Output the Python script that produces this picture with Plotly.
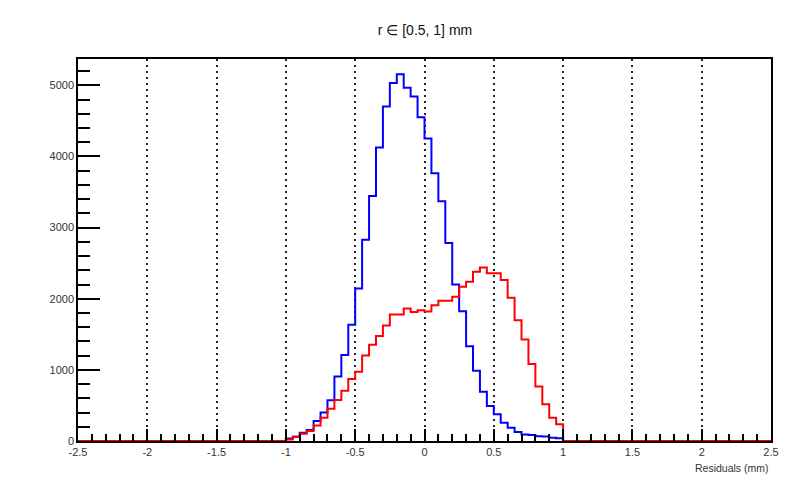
import numpy as np
import plotly.graph_objects as go

# Histogram binning: 100 bins of 0.05 from -2.5 to 2.5
x_min, x_max, n_bins = -2.5, 2.5, 100
# Non-empty region: 40 bins starting at -1.0
first_filled_bin_low = -1.0

blue_counts = [35, 60, 115, 153, 281, 399, 573, 908, 1210, 1635,
               2145, 2829, 3443, 4127, 4703, 5032, 5155, 4966, 4844, 4551,
               4254, 3763, 3372, 2782, 2201, 1824, 1333, 988, 691, 493,
               375, 257, 186, 125, 92, 85, 68, 62, 45, 40]
red_counts = [21, 59, 101, 139, 219, 328, 455, 578, 705, 870,
              974, 1201, 1352, 1475, 1625, 1777, 1777, 1862, 1815, 1838,
              1820, 1909, 1970, 1970, 2027, 2169, 2240, 2381, 2438, 2357,
              2357, 2263, 2013, 1696, 1427, 1083, 767, 517, 328, 234]

title_text = "r \u2208 [0.5, 1] mm"
x_title = "Residuals (mm)"
x_tickvals = [-2.5, -2, -1.5, -1, -0.5, 0, 0.5, 1, 1.5, 2, 2.5]
x_ticktext = ["-2.5", "-2", "-1.5", "-1", "-0.5", "0", "0.5", "1", "1.5", "2", "2.5"]
y_tickvals = [0, 1000, 2000, 3000, 4000, 5000]
y_max = 5370

edges = np.round(np.linspace(x_min, x_max, n_bins + 1), 4)
start = int(round((first_filled_bin_low - x_min) / ((x_max - x_min) / n_bins)))


def full_hist(counts):
    arr = np.zeros(n_bins)
    arr[start:start + len(counts)] = counts
    return arr


def step_xy(counts):
    h = full_hist(counts)
    xs = list(edges[:-1]) + [edges[-1], edges[-1]]
    ys = list(h) + [h[-1], 0]
    return xs, ys


fig = go.Figure()
for counts, color in [(blue_counts, "#0000ff"), (red_counts, "#ff0000")]:
    xs, ys = step_xy(counts)
    fig.add_trace(go.Scatter(x=xs, y=ys, mode="lines",
                             line=dict(color=color, width=2, shape="hv"),
                             hoverinfo="skip", showlegend=False))

# page body has an 8px margin, so the figure is placed at (8, 8)
W, H = 794, 496
ml, mr, mt, mb = 70, 31, 51, 63

fig.update_layout(
    width=W, height=H,
    margin=dict(l=ml, r=mr, t=mt, b=mb),
    paper_bgcolor="white", plot_bgcolor="white",
    font=dict(family="Liberation Sans, Arial, sans-serif", color="#222222", size=11),
    title=dict(text=title_text, x=(425 - 8) / W, xref="container",
               y=1 - 22 / H, yref="container",
               xanchor="center", yanchor="middle",
               font=dict(size=14, color="#111111")),
    annotations=[dict(text=x_title, xref="paper", yref="paper", x=1, y=0,
                      xanchor="right", yanchor="top", yshift=-19, showarrow=False,
                      font=dict(size=10.5, color="#333333"))],
    xaxis=dict(range=[x_min, x_max], tickvals=x_tickvals, ticktext=x_ticktext,
               ticks="inside", ticklen=12, tickwidth=1.5, tickcolor="black",
               showline=True, linecolor="black", linewidth=1.5, mirror=True,
               showgrid=True, gridcolor="#222222", griddash="1.5px,4.5px", gridwidth=1.5,
               zeroline=False,
               minor=dict(dtick=0.1, ticks="inside", ticklen=7, tickwidth=1.5,
                          tickcolor="black", showgrid=False),
               tickfont=dict(size=11, color="#333333")),
    yaxis=dict(range=[0, y_max], tickvals=y_tickvals,
               ticks="inside", ticklen=22, tickwidth=1.5, tickcolor="black",
               showline=True, linecolor="black", linewidth=1.5, mirror=True,
               showgrid=False, zeroline=False,
               minor=dict(dtick=200, ticks="inside", ticklen=12, tickwidth=1.5,
                          tickcolor="black", showgrid=False),
               tickfont=dict(size=11, color="#333333")),
)

fig.write_html("out.html")
